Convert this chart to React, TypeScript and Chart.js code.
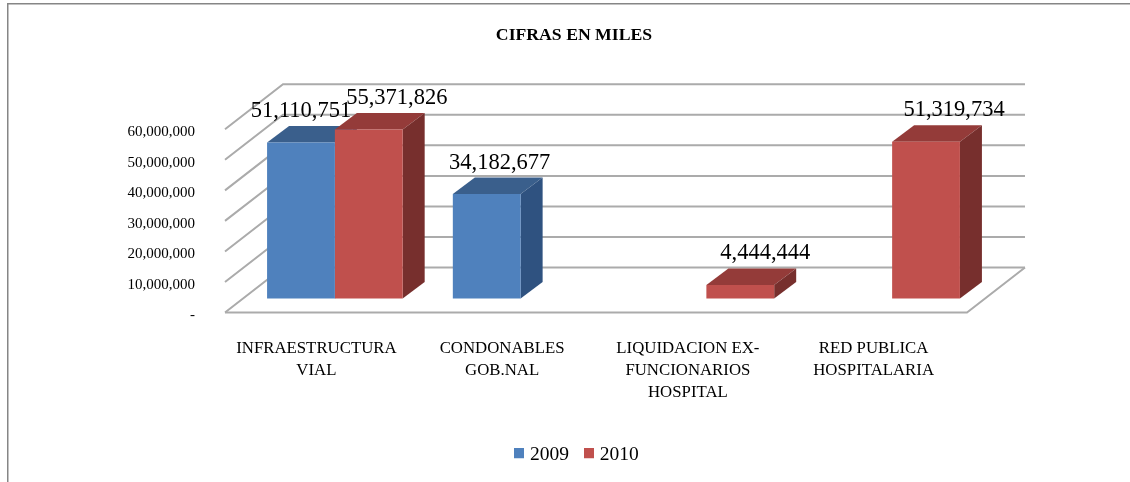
import React, { useEffect, useRef } from "react";
import { Chart, registerables } from "chart.js";

Chart.register(...registerables);

const categories = [
  ["INFRAESTRUCTURA", "VIAL"],
  ["CONDONABLES", "GOB.NAL"],
  ["LIQUIDACION EX-", "FUNCIONARIOS", "HOSPITAL"],
  ["RED PUBLICA", "HOSPITALARIA"],
];
const values2009 = [51110751, 34182677, null, null];
const values2010 = [55371826, null, 4444444, 51319734];
const tickStep = 10000000;
const tickMax = 60000000;

const FONT = "'Liberation Serif', serif";
const BLUE = "#4F81BD";
const RED = "#C0504D";
const faces: Record<string, { top: string; side: string }> = {
  "2009": { top: "#3A5F8C", side: "#2F5280" },
  "2010": { top: "#943B39", side: "#772F2D" },
};
const labelShift: Record<string, number[]> = {
  "2009": [0, 13, 0, 0],
  "2010": [28, 0, 25, 28],
};
const PX_PER_UNIT = 183 / tickMax;
const AREA_H = 228;
const BAR_LIFT = 14;

const fmt = (v: number) => v.toLocaleString("en-US");

function square(color: string) {
  const c = document.createElement("canvas");
  c.width = 10;
  c.height = 14;
  const g = c.getContext("2d")!;
  g.fillStyle = color;
  g.fillRect(0, 0, 10, 10);
  return c;
}

const depthPlugin = {
  id: "depth",
  afterLayout(chart: any) {
    chart.legend.left += 4.5;
    chart.legend.right += 4.5;
  },
  beforeDatasetsDraw(chart: any) {
    const { ctx, chartArea, scales } = chart;
    const ty = scales.y;
    const frontL = chartArea.left - 17;
    const frontR = chartArea.right - 18;
    const wx = 58;
    const wy = 45;
    ctx.save();
    // frame
    ctx.strokeStyle = "#868686";
    ctx.lineWidth = 1.5;
    ctx.beginPath();
    ctx.moveTo(7.75, chart.height);
    ctx.lineTo(7.75, 3.75);
    ctx.lineTo(chart.width, 3.75);
    ctx.stroke();
    // walls
    ctx.strokeStyle = "#ABABAB";
    ctx.lineWidth = 2;
    ty.ticks.forEach((t: any) => {
      const py = ty.getPixelForValue(t.value);
      ctx.beginPath();
      ctx.moveTo(frontL, py);
      ctx.lineTo(frontL + wx, py - wy);
      ctx.lineTo(frontR + wx, py - wy);
      ctx.stroke();
    });
    // floor
    const p0 = ty.getPixelForValue(0);
    ctx.beginPath();
    ctx.moveTo(frontL, p0);
    ctx.lineTo(frontR, p0);
    ctx.lineTo(frontR + wx, p0 - wy);
    ctx.stroke();
    // bar depth
    const dx = 22;
    const dy = 16.5;
    chart.data.datasets.forEach((ds: any, di: number) => {
      const meta = chart.getDatasetMeta(di);
      meta.data.forEach((bar: any, i: number) => {
        if (ds.data[i] == null) return;
        const { x, y, base, width } = bar.getProps(["x", "y", "base", "width"], true);
        const l = x - width / 2;
        const r = x + width / 2;
        ctx.fillStyle = faces[ds.label].top;
        ctx.beginPath();
        ctx.moveTo(l, y);
        ctx.lineTo(l + dx, y - dy);
        ctx.lineTo(r + dx, y - dy);
        ctx.lineTo(r, y);
        ctx.closePath();
        ctx.fill();
        ctx.fillStyle = faces[ds.label].side;
        ctx.beginPath();
        ctx.moveTo(r, y);
        ctx.lineTo(r + dx, y - dy);
        ctx.lineTo(r + dx, base - dy);
        ctx.lineTo(r, base);
        ctx.closePath();
        ctx.fill();
      });
    });
    ctx.restore();
  },
  afterDatasetsDraw(chart: any) {
    const { ctx } = chart;
    ctx.save();
    ctx.fillStyle = "#000";
    ctx.font = `22.5px ${FONT}`;
    ctx.textAlign = "center";
    ctx.textBaseline = "middle";
    chart.data.datasets.forEach((ds: any, di: number) => {
      chart.getDatasetMeta(di).data.forEach((bar: any, i: number) => {
        if (ds.data[i] == null) return;
        ctx.fillText(fmt(ds.data[i]), bar.x + labelShift[ds.label][i], bar.y - 31.5);
      });
    });
    ctx.restore();
  },
};

export default function App() {
  const ref = useRef<HTMLCanvasElement>(null);
  useEffect(() => {
    const chart = new Chart(ref.current!, {
      type: "bar",
      plugins: [depthPlugin],
      data: {
        labels: categories as any,
        datasets: [
          { label: "2009", data: values2009, backgroundColor: BLUE, yAxisID: "yBars" },
          { label: "2010", data: values2010, backgroundColor: RED, yAxisID: "yBars" },
        ],
      },
      options: {
        responsive: false,
        animation: false,
        layout: { padding: { left: 120, right: 102, top: 0, bottom: 7 } },
        datasets: { bar: { barPercentage: 1, categoryPercentage: 0.73 } },
        plugins: {
          tooltip: { enabled: false },
          title: {
            display: true,
            text: "CIFRAS EN MILES",
            color: "#000",
            font: { family: FONT, size: 17.7, weight: "bold" },
            padding: { top: 25, bottom: 38 },
          },
          legend: {
            position: "bottom",
            labels: {
              color: "#000",
              font: { family: FONT, size: 19.5 },
              padding: 19,
              usePointStyle: true,
              pointStyleWidth: 2,
              generateLabels: (c: any) =>
                (Chart.defaults.plugins.legend.labels as any)
                  .generateLabels(c)
                  .map((it: any, i: number) => ({ ...it, pointStyle: square([BLUE, RED][i]) })),
            },
          },
        },
        scales: {
          x: {
            grid: { display: false, drawTicks: false },
            border: { display: false },
            afterFit: (s: any) => {
              s.height = 114;
            },
            ticks: {
              color: "#000",
              font: { family: FONT, size: 16.8, lineHeight: 1.31 },
              padding: 25,
              labelOffset: -18.5,
              autoSkip: false,
              maxRotation: 0,
            },
          },
          y: {
            position: "left",
            min: 0,
            max: AREA_H / PX_PER_UNIT,
            grid: { display: false, drawTicks: false },
            border: { display: false },
            afterFit: (s: any) => {
              s.width = 122;
            },
            afterBuildTicks: (s: any) => {
              const out = [];
              for (let v = 0; v <= tickMax; v += tickStep) out.push({ value: v });
              s.ticks = out;
            },
            ticks: {
              color: "#000",
              font: { family: FONT, size: 15 },
              padding: 47,
              labelOffset: 3,
              autoSkip: false,
              callback: (v: any) => (v === 0 ? "-" : fmt(Number(v))),
            },
          },
          yBars: {
            position: "right",
            min: -BAR_LIFT / PX_PER_UNIT,
            max: (AREA_H - BAR_LIFT) / PX_PER_UNIT,
            grid: { display: false, drawTicks: false },
            border: { display: false },
            ticks: { display: false },
            afterFit: (s: any) => {
              s.width = 43;
            },
          },
        },
      } as any,
    });
    return () => chart.destroy();
  }, []);
  return (
    <div style={{ position: "fixed", left: 0, top: 0, width: 1130, height: 482, background: "#fff" }}>
      <canvas
        ref={ref}
        width={1130}
        height={482}
        style={{ display: "block", width: 1130, height: 482, filter: "blur(0.5px)" }}
      />
    </div>
  );
}
